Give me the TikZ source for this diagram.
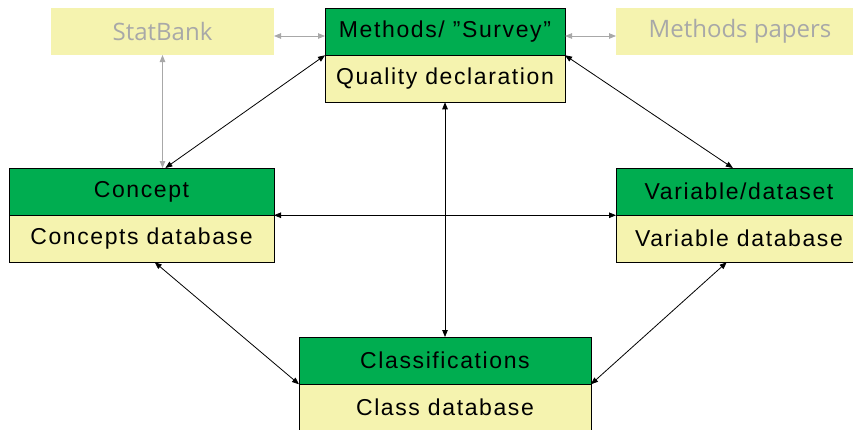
\documentclass[tikz,border=0pt]{standalone}
\usepackage{fontspec}
\setmainfont{Liberation Sans}
\newfontfamily\boxfont[LetterSpace=7]{Liberation Sans}
\newfontfamily\grayfont{Open Sans}
\usetikzlibrary{arrows.meta,calc}
\definecolor{boxgreen}{HTML}{00AD50}
\definecolor{boxyellow}{HTML}{F5F3AF}
\definecolor{lightgray}{HTML}{A8A8A8}
\tikzset{
  part/.style={draw=black, line width=0.8pt, minimum width=#1, inner sep=0pt, outer sep=0pt,
    font=\boxfont\fontsize{23}{26}\selectfont, text=black},
  head/.style={part=#1, fill=boxgreen, minimum height=47.25},
  body/.style={part=#1, fill=boxyellow, minimum height=47},
  ghost/.style={fill=boxyellow, minimum width=#1, minimum height=47, inner sep=0pt, outer sep=0pt,
    font=\grayfont\fontsize{24}{27}\selectfont, text=lightgray},
  link/.style={black, line width=0.8pt, {Triangle[length=7,width=5.5]}-{Triangle[length=7,width=5.5]}},
  graylink/.style={lightgray, line width=0.8pt, {Triangle[length=7,width=5.5]}-{Triangle[length=7,width=5.5]}}
}
\begin{document}
\begin{tikzpicture}[x=1pt,y=-1pt]
\useasboundingbox (0,0) rectangle (853,429);
\clip (0,0) rectangle (853,429);
% gray boxes
\node[ghost=223, anchor=north west] (statbank) at (51,8) {StatBank};
\node[ghost=248, anchor=north west] (papers) at (616,8) {Methods papers};
% Methods
\node[head=240, anchor=north west] (methodsH) at (325,8) {Methods/ ”Survey”};
\node[body=240, anchor=north] (methodsB) at (methodsH.south) {Quality declaration};
% Concept
\node[head=265, anchor=north west] (conceptH) at (9,168) {Concept};
\node[body=265, anchor=north] (conceptB) at (conceptH.south) {Concepts database};
% Variable
\node[head=246, anchor=north west] (varH) at (616,168) {Variable/dataset};
\node[body=246, anchor=north] (varB) at (varH.south) {Variable database};
% Classifications
\node[head=292, anchor=north west] (classH) at (299,337) {Classifications};
\node[body=292, anchor=north] (classB) at (classH.south) {Class database};
% helper coordinates
\coordinate (sbR) at ($(statbank.east)+(0,4.5)$);
\coordinate (ppL) at ($(papers.west)+(0,4.5)$);
\coordinate (cTop) at ($(conceptH.north west)!0.59!(conceptH.north east)$);
\coordinate (vTop) at ($(varH.north west)!0.475!(varH.north east)$);
\coordinate (cBot) at ($(conceptB.south west)!0.55!(conceptB.south east)$);
\coordinate (vBot) at ($(varB.south west)!0.45!(varB.south east)$);
% gray connectors
\draw[graylink] (sbR) -- (sbR -| methodsH.west);
\draw[graylink] (methodsH.east |- ppL) -- (ppL);
\draw[graylink] (statbank.south) -- (statbank.south |- conceptH.north);
% black connectors
\draw[link] (methodsH.south west) -- (cTop);
\draw[link] (methodsH.south east) -- (vTop);
\draw[link] (conceptH.south east) -- (varH.south west);
\draw[link] (methodsB.south) -- (classH.north);
\draw[link] (cBot) -- (classH.south west);
\draw[link] (vBot) -- (classH.south east);
\end{tikzpicture}
\end{document}
